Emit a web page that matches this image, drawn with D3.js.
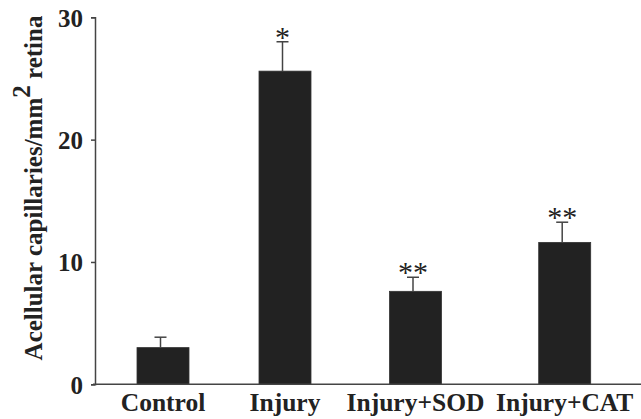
<!DOCTYPE html>
<html>
<head>
<meta charset="utf-8">
<script src="https://cdn.jsdelivr.net/npm/d3@7"></script>
<style>
  html, body { margin: 0; padding: 0; background: #fff; }
  svg { display: block; }
  text { font-family: "Liberation Serif", "Times New Roman", serif; font-weight: bold; fill: #222; }
</style>
</head>
<body>
<script>
const categories = ["Control", "Injury", "Injury+SOD", "Injury+CAT"];
const means = [3.0, 25.6, 7.6, 11.6];
const errors = [0.85, 2.4, 1.15, 1.65];
const significance = ["", "*", "**", "**"];
const yTicks = [0, 10, 20, 30];

const W = 641, H = 419;
const svg = d3.select("body").append("svg").attr("width", W).attr("height", H);

const y = d3.scaleLinear().domain([0, 30]).range([384.3, 17.3]);
// the original figure spaces its groups unevenly, so map each category to its centre
const x = d3.scaleOrdinal().domain(categories).range([163, 285, 415.5, 564.7]);
const barW = 52;

const axisColor = "#444";

// bars
svg.append("g").selectAll("rect").data(categories).join("rect")
  .attr("x", d => x(d) - barW / 2)
  .attr("width", barW)
  .attr("y", (d, i) => y(means[i]))
  .attr("height", (d, i) => y(0) - y(means[i]))
  .attr("fill", "#222")
  .attr("stroke", "#333")
  .attr("stroke-width", 0.8);

// error bars (upper only)
const errOff = -2.5, capHalf = 6;
const eg = svg.append("g").attr("stroke", "#444").attr("stroke-width", 1.5);
categories.forEach((c, i) => {
  const cx = x(c) + errOff;
  eg.append("line").attr("x1", cx).attr("x2", cx)
    .attr("y1", y(means[i])).attr("y2", y(means[i] + errors[i]));
  eg.append("line").attr("x1", cx - capHalf).attr("x2", cx + capHalf)
    .attr("y1", y(means[i] + errors[i])).attr("y2", y(means[i] + errors[i]));
});

// significance stars
svg.append("g").selectAll("text").data(categories).join("text")
  .attr("x", d => x(d) + errOff)
  .attr("y", (d, i) => y(means[i] + errors[i]) + 5)
  .attr("text-anchor", "middle")
  .attr("font-size", 30)
  .style("font-weight", "normal")
  .text((d, i) => significance[i]);

// y axis
const yAxis = d3.axisLeft(y).tickValues(yTicks).tickSize(4).tickPadding(8).tickFormat(d3.format("d"));
const gy = svg.append("g").attr("transform", "translate(95,0)").call(yAxis);
gy.select(".domain").attr("stroke", axisColor).attr("stroke-width", 1.5);
gy.selectAll(".tick line").attr("stroke", axisColor).attr("stroke-width", 1.5);
gy.selectAll(".tick text")
  .attr("font-size", 25).attr("fill", "#222")
  .style("font-family", "'Liberation Serif', 'Times New Roman', serif")
  .style("font-weight", "bold")
  .attr("dy", "0.36em");

// x axis baseline
svg.append("line")
  .attr("x1", 93).attr("x2", W)
  .attr("y1", y(0)).attr("y2", y(0))
  .attr("stroke", axisColor).attr("stroke-width", 1.5);

// category labels
svg.append("g").selectAll("text").data(categories).join("text")
  .attr("x", d => x(d))
  .attr("y", 411)
  .attr("text-anchor", "middle")
  .attr("font-size", 25.5)
  .text(d => d);

// y title
const yt = svg.append("text")
  .attr("transform", "translate(42,188) rotate(-90)")
  .attr("text-anchor", "middle")
  .attr("font-size", 25);
yt.append("tspan").text("Acellular capillaries/mm");
yt.append("tspan").attr("dy", "-0.5em").text("2");
yt.append("tspan").attr("dy", "0.5em").text(" retina");
</script>
</body>
</html>
